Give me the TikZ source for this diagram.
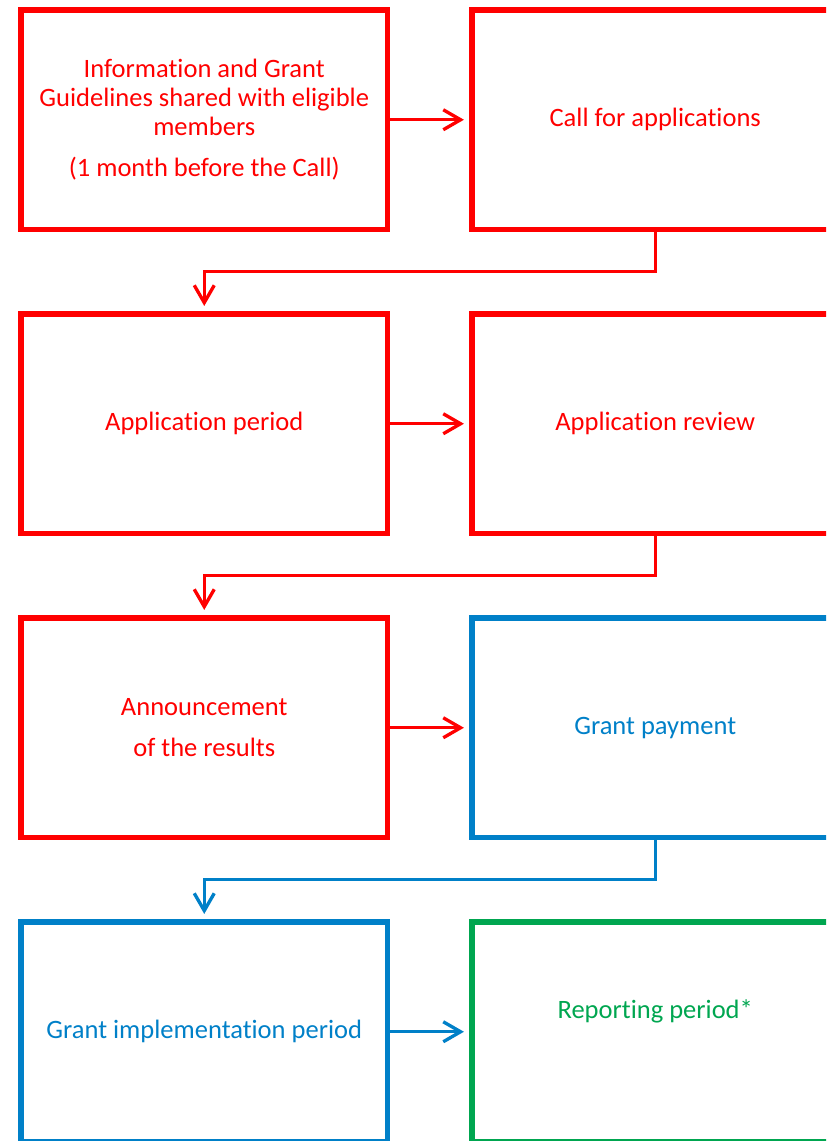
\documentclass[tikz,border=0pt]{standalone}
\usepackage{fontspec}
\setmainfont{Carlito}[Ligatures={NoCommon}]
\usetikzlibrary{arrows.meta, calc}

\definecolor{grantblue}{RGB}{0,128,200}
\definecolor{reportgreen}{RGB}{0,166,80}

\tikzset{
	stage text/.style={font=\fontsize{19.9pt}{21.75pt}\selectfont},
	stage/.style={draw=#1, text=#1, stage text, line width=4.1pt, minimum width=274.9pt, minimum height=164.6pt, align=center, inner sep=0pt},
	flow/.style={draw=#1, line width=2.5pt, -{Straight Barb[length=13pt, width=15pt]}, shorten >=4pt},
}

\begin{document}
\begin{tikzpicture}[x=0.75pt, y=-0.75pt]
			\def\colL{204.25};
			\def\colR{655.25};
			\def\drop{39.5};

			\useasboundingbox (0,0) rectangle (826,1141);
			\clip (0,0) rectangle (826,1141);

			\begin{scope}
				\node [stage=red] (info) at (\colL,119.75) {Information and Grant\\Guidelines shared with eligible\\members\\[9pt](1 month before the Call)};
				\node [stage=red] (call) at (\colR,119.75) {Call for applications};
				\node [stage=red] (apply) at (\colL,423.75) {Application period};
				\node [stage=red] (review) at (\colR,423.75) {Application review};
				\node [stage=red] (announce) at (\colL,727.75) {Announcement\\[9pt]of the results};
			\end{scope}

			\begin{scope}
				\node [stage=grantblue] (payment) at (\colR,727.75) {Grant payment};
				\node [stage=grantblue] (implement) at (\colL,1031.75) {Grant implementation period};
				\node [stage=reportgreen, label={[stage text, text=reportgreen, yshift=15pt]center:Reporting period*}] (report) at (\colR,1031.75) {};
			\end{scope}

			\begin{scope}
				\draw [flow=red] (info.east) -- (call.west);
				\draw [flow=red] (call.south) -- ++(0,\drop) -| (apply.north);
				\draw [flow=red] (apply.east) -- (review.west);
				\draw [flow=red] (review.south) -- ++(0,\drop) -| (announce.north);
				\draw [flow=red] (announce.east) -- (payment.west);
				\draw [flow=grantblue] (payment.south) -- ++(0,\drop) -| (implement.north);
				\draw [flow=grantblue] (implement.east) -- (report.west);
			\end{scope}
\end{tikzpicture}
\end{document}
